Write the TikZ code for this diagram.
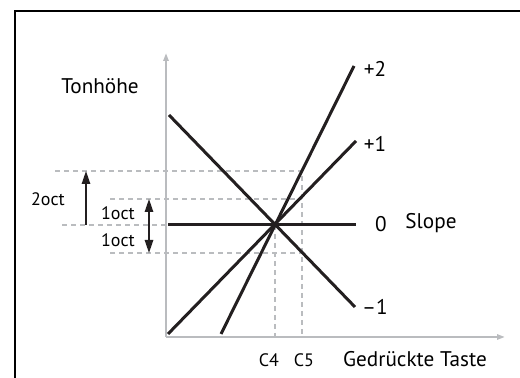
\documentclass[tikz,border=0pt]{standalone}
\usepackage{fontspec}
\setmainfont{PT Sans}
\usetikzlibrary{arrows.meta}
\definecolor{axisgray}{RGB}{186,188,191}
\definecolor{linedark}{RGB}{35,31,32}
\begin{document}
\begin{tikzpicture}[x=0.5pt, y=0.5pt, >={Triangle[length=6.5pt,width=4.2pt]},
    kennlinie/.style={line width=1.5pt, linedark},
    hilfslinie/.style={line width=0.7pt, axisgray, dash pattern=on 2.5pt off 2pt},
    achse/.style={line width=1pt, axisgray, -{Triangle[length=4pt,width=2.6pt]}},
    okt/.style={line width=0.8pt, linedark},
    lab/.style={inner sep=0pt, font=\fontsize{10.6pt}{12pt}\selectfont},
    klein/.style={inner sep=0pt, font=\fontsize{9pt}{10pt}\selectfont}]
				\useasboundingbox (0,0) rectangle (520,378);
				% 外框
				\draw[line width=1pt] (15,0) -- (15,367) -- (520,367);
				
				% 坐标轴
				\coordinate (O) at (166,41);
				\coordinate (Ytip) at (166,325);
				\coordinate (Xtip) at (505,41);
				\draw[achse] (O) -- (Ytip);
				\draw[achse] (O) -- (Xtip);
				
				% 辅助虚线
				\coordinate (P) at (275,153);
				\coordinate (C4) at (275,41);
				\coordinate (C5) at (302,41);
				\coordinate (C5top) at (302,207);
				\draw[hilfslinie] (55,207) -- (C5top) -- (C5);
				\draw[hilfslinie] (110,179) -- (302,179);
				\draw[hilfslinie] (110,125) -- (302,125);
				\draw[hilfslinie] (62,153) -- (O |- P);
				\draw[hilfslinie] (P) -- (C4);
				
				% 特性线
				\coordinate (Lnull) at (168,153);  \coordinate (Rnull) at (356,153);
				\coordinate (Leins) at (168,44);   \coordinate (Reins) at (356,237);
				\coordinate (Lzwei) at (221,44);   \coordinate (Rzwei) at (354,312);
				\coordinate (Lminus) at (169,263); \coordinate (Rminus) at (355,71);
				\draw[kennlinie] (Lnull) -- (Rnull);
				\draw[kennlinie] (Leins) -- (Reins);
				\draw[kennlinie] (Lzwei) -- (Rzwei);
				\draw[kennlinie] (Lminus) -- (Rminus);
				
				% 八度箭头
				\coordinate (A2u) at (86,153);  \coordinate (A2o) at (86,207);
				\coordinate (A1o) at (149,179); \coordinate (A1u) at (149,125);
				\draw[okt, ->] (A2u) -- (A2o);
				\draw[okt, <->] (A1u) -- (A1o);
				
				% 标注
				\node[lab] (tonhoehe) at (100,292) {Tonhöhe};
				\node[lab] (zwei) at (375,309) {+2};
				\node[lab] (eins) at (375,234) {+1};
				\node[lab] (null) at (381,154) {0};
				\node[lab] (slope) at (431,155) {Slope};
				\node[lab] (minus) at (375,71) {–1};
				\node[lab] (taste) at (415,19) {Gedrückte Taste};
				\node[klein] (oktzwei) at (48,179) {2oct};
				\node[klein] (oktoben) at (118,165) {1oct};
				\node[klein] (oktunten) at (118,138) {1oct};
				\node[klein] (cvier) at (269,18) {C4};
				\node[klein] (cfuenf) at (304,18) {C5};
			\end{tikzpicture}
\end{document}
